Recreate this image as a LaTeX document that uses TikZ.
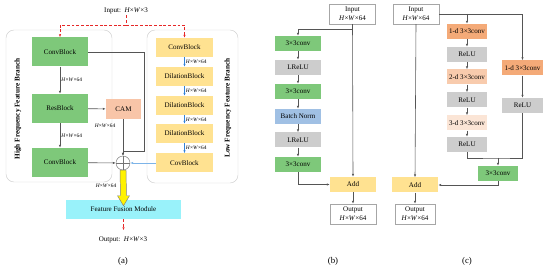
\documentclass[tikz,border=0pt]{standalone}
\usepackage{fontspec}
\setmainfont{Liberation Serif}
\usetikzlibrary{arrows.meta, calc}
\definecolor{blockgreen}{RGB}{126,200,122}
\definecolor{blockyellow}{RGB}{255,226,145}
\definecolor{blockgray}{RGB}{205,205,205}
\definecolor{normblue}{RGB}{160,192,228}
\definecolor{convorange}{RGB}{244,170,120}
\definecolor{convpeach}{RGB}{248,203,173}
\definecolor{convcream}{RGB}{251,229,214}
\definecolor{camorange}{RGB}{248,197,168}
\definecolor{fusioncyan}{RGB}{153,242,250}
\definecolor{linegray}{RGB}{85,85,85}
\definecolor{chainblue}{RGB}{50,130,215}
\definecolor{sideblue}{RGB}{125,180,232}
\definecolor{dashred}{RGB}{230,40,40}
\newcommand{\hwc}[1]{\textit{H}×\textit{W}×#1}

\tikzset{
  box/.style={rectangle, inner sep=0pt, font=\fontsize{6}{7}\selectfont},
  bigbox/.style={box, fill=blockgreen, minimum width=16.8mm, minimum height=8.7mm},
  ybox/.style={box, fill=blockyellow, minimum width=17.1mm, minimum height=5.7mm},
  bbox/.style={box, minimum width=13.8mm, minimum height=4.5mm},
  cbox/.style={box, minimum width=12mm, minimum height=4.5mm},
  iobox/.style={box, draw=black!35, fill=white, align=center, minimum height=6mm, font=\fontsize{6}{7.5}\selectfont},
  branch/.style={draw=black!20, rounded corners=2.4mm},
  branchlabel/.style={rotate=90, font=\fontsize{6.2}{7}\selectfont\bfseries},
  textlabel/.style={inner sep=1pt, font=\fontsize{6}{7}\selectfont},
  caption/.style={inner sep=1pt, font=\fontsize{7.5}{8}\selectfont},
  dimlabel/.style={inner sep=1pt, font=\fontsize{4.6}{5}\selectfont},
  darkarrow/.style={draw=linegray, line width=0.5pt, -{Latex[length=2.5pt,width=2pt]}},
  bluearrow/.style={draw=chainblue, line width=0.5pt, -{Latex[length=2.5pt,width=2pt]}},
  reddash/.style={draw=dashred, line width=0.5pt, dashed, dash pattern=on 2.5pt off 1.5pt},
  sumnode/.style={circle, draw=black!55, minimum size=4.2mm, inner sep=0pt,
    path picture={\draw[black!55] (path picture bounding box.north) -- (path picture bounding box.south)
      (path picture bounding box.west) -- (path picture bounding box.east);}},
  fatarrow/.style={draw=black!50, fill=yellow, line width=0.4pt}
}

\begin{document}
\begin{tikzpicture}[x=0.3mm, y=-0.3mm]
  \useasboundingbox (0,0) rectangle (550,270);

  % (a) branches
  \draw[branch] (6,30) rectangle (112,182);
  \draw[branch] (147,30) rectangle (238,183);
  \node[branchlabel] (hflabel) at (18,109) {High Frequency Feature Branch};
  \node[branchlabel] (lflabel) at (228,108) {Low Frequency Feature Branch};

  \node[textlabel] (inA) at (126,11) {Input:\enspace\hwc{3}};
  \node[bigbox] (cb1) at (60,52) {ConvBlock};
  \node[bigbox] (rb) at (60,108.5) {ResBlock};
  \node[bigbox] (cb2) at (60,162.5) {ConvBlock};
  \node[box, fill=camorange, minimum width=10.5mm, minimum height=6mm] (cam) at (123.5,109) {CAM};

  \node[ybox] (ycb) at (184.5,47.5) {ConvBlock};
  \node[ybox] (db1) at (184.5,76.5) {DilationBlock};
  \node[ybox] (db2) at (184.5,105.5) {DilationBlock};
  \node[ybox] (db3) at (184.5,133.5) {DilationBlock};
  \node[ybox] (cov) at (184.5,163) {CovBlock};

  \node[sumnode] (sum) at (123,163) {};
  \node[box, fill=fusioncyan, minimum width=34.5mm, minimum height=5.7mm] (ffm) at (123.5,209.5) {Feature Fusion Module};
  \node[textlabel] (outA) at (123,240) {Output:\enspace\hwc{3}};
  \node[caption] (capA) at (123,261) {(a)};

  % input split
  \coordinate (split) at (126,25);
  \draw[reddash] (inA.south) -- (split);
  \draw[reddash, -{Latex[length=2.5pt,width=2pt]}] (split) -| (cb1.north);
  \draw[reddash, -{Latex[length=2.5pt,width=2pt]}] (split) -| (ycb.north);

  % high frequency branch
  \draw[darkarrow] (cb1) -- node[dimlabel, right] {\hwc{64}} (rb);
  \draw[darkarrow] (rb) -- (cam);
  \draw[darkarrow] (rb) -- node[dimlabel, right] {\hwc{64}} (cb2);
  \node[dimlabel] (camdim) at (105,126) {\hwc{64}};
  \coordinate (skip) at (144,151);
  \draw[darkarrow] (cb1.east) -| (skip) -| (sum.north);
  \draw[darkarrow] (cam.south -| sum.north) -- (sum.north);
  \draw[darkarrow] (cb2) -- (sum);

  % low frequency branch
  \foreach \a/\b in {ycb/db1, db1/db2, db2/db3, db3/cov}
    \draw[bluearrow] (\a) -- node[dimlabel, right] {\hwc{64}} (\b);
  \draw[bluearrow, draw=sideblue] (cov) -- (sum);

  % fusion
  \draw[fatarrow] ($(sum.south)+(-3,0)$) -- ($(ffm.north)+(-3,-4)$) -- ($(ffm.north)+(-6,-4)$)
    -- ($(ffm.north)+(0,6)$) -- ($(ffm.north)+(6,-4)$) -- ($(ffm.north)+(3,-4)$)
    -- ($(sum.south)+(3,0)$) -- cycle;
  \node[dimlabel] (fusedim) at (106,186) {\hwc{64}};
  \draw[reddash, -{Latex[length=2.5pt,width=2pt]}] (ffm.south) -- ++(0,11);

  % (b) residual block
  \node[iobox, minimum width=13.8mm] (inB) at (352.5,14) {Input\\\hwc{64}};
  \node[bbox, fill=blockgreen] (b1) at (298,43.5) {3×3conv};
  \node[bbox, fill=blockgray] (b2) at (298,67.5) {LReLU};
  \node[bbox, fill=blockgreen] (b3) at (298,91.5) {3×3conv};
  \node[bbox, fill=normblue] (b4) at (298,116.5) {Batch Norm};
  \node[bbox, fill=blockgray] (b5) at (298,140) {LReLU};
  \node[bbox, fill=blockgreen] (b6) at (298,164.5) {3×3conv};
  \node[bbox, fill=blockyellow] (addB) at (353,184.5) {Add};
  \node[iobox, minimum width=13.8mm] (outB) at (353,214) {Output\\\hwc{64}};
  \node[caption] (capB) at (333,261) {(b)};

  \coordinate (bsplit) at (352.5,29);
  \draw[darkarrow] (inB.south) -- (addB.north);
  \draw[darkarrow] (bsplit) -| (b1.north);
  \foreach \a/\b in {b1/b2, b2/b3, b3/b4, b4/b5, b5/b6}
    \draw[darkarrow] (\a) -- (\b);
  \draw[darkarrow] (b6.south) |- (addB.west);
  \draw[darkarrow] (addB) -- (outB);

  % (c) dilation block
  \node[iobox, minimum width=13.8mm] (inC) at (416,14) {Input\\\hwc{64}};
  \node[cbox, fill=convorange] (c1) at (467,31.5) {1-d 3×3conv};
  \node[cbox, fill=blockgray] (c2) at (467,54.5) {ReLU};
  \node[cbox, fill=convpeach] (c3) at (467,77) {2-d 3×3conv};
  \node[cbox, fill=blockgray] (c4) at (467,100) {ReLU};
  \node[cbox, fill=convcream] (c5) at (467,123) {3-d 3×3conv};
  \node[cbox, fill=blockgray] (c6) at (467,144.5) {ReLU};
  \node[cbox, fill=convorange, minimum width=12.3mm] (r1) at (522.5,68) {1-d 3×3conv};
  \node[cbox, fill=blockgray, minimum width=12.3mm] (r2) at (522.5,105.5) {ReLU};
  \node[cbox, fill=blockgreen] (c7) at (498,173.5) {3×3conv};
  \node[bbox, fill=blockyellow] (addC) at (415,185) {Add};
  \node[iobox, minimum width=12mm] (outC) at (415,214) {Output\\\hwc{64}};
  \node[caption] (capC) at (467,261) {(c)};

  \draw[darkarrow] (inC.east) -| (r1.north);
  \draw[darkarrow] (inC.east -| c1.north) -- (c1.north);
  \draw[darkarrow] (inC.south) -- (addC.north);
  \foreach \a/\b in {c1/c2, c2/c3, c3/c4, c4/c5, c5/c6, r1/r2}
    \draw[darkarrow] (\a) -- (\b);
  \coordinate (cmerge) at (498,158);
  \draw[draw=linegray, line width=0.5pt] (c6.south) |- (cmerge) -| (r2.south);
  \draw[darkarrow] (cmerge) -- (c7.north);
  \draw[darkarrow] (c7.south) |- (addC.east);
  \draw[darkarrow] (addC) -- (outC);
\end{tikzpicture}
\end{document}
